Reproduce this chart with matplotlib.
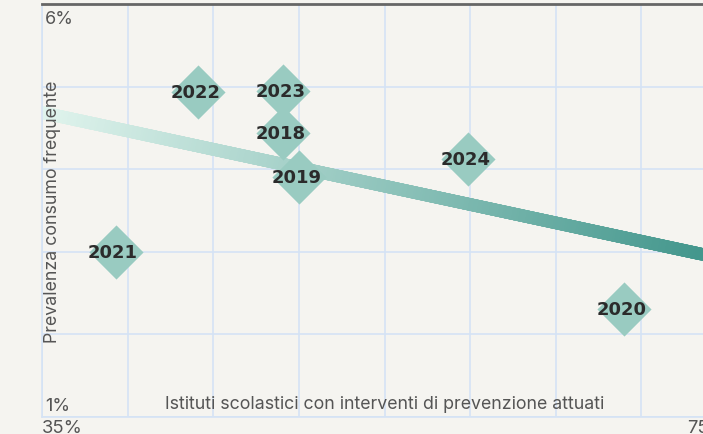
import numpy as np
import matplotlib.pyplot as plt
from matplotlib.collections import LineCollection
from matplotlib.colors import LinearSegmentedColormap

plt.rcParams['font.family'] = ['Inter', 'DejaVu Sans']

# dati: istituti con interventi (%) vs prevalenza consumo frequente (%)
anni = ['2018', '2019', '2020', '2021', '2022', '2023', '2024']
istituti = [49.1, 50.0, 69.0, 39.3, 44.1, 49.1, 59.9]
prevalenza = [4.44, 3.91, 2.31, 3.00, 4.93, 4.95, 4.12]

x_ticks = [35, 40, 45, 50, 55, 60, 65, 70, 75]
y_ticks = [1, 2, 3, 4, 5, 6]

bg = '#f5f4f0'
grid_col = '#d5e3f5'
text_col = '#555555'

fig = plt.figure(figsize=(7.03, 4.35), dpi=100, facecolor=bg)
ax = fig.add_axes([42 / 703, 17 / 435, 685 / 703, 413 / 435])
ax.set_facecolor(bg)
ax.set_xlim(35, 75)
ax.set_ylim(1, 6)

ax.set_xticks(x_ticks)
ax.set_yticks(y_ticks)
ax.tick_params(length=0, labelbottom=False, labelleft=False)
ax.grid(True, color=grid_col, linewidth=1.2)
ax.set_axisbelow(True)
for s in ['left', 'bottom', 'right']:
    ax.spines[s].set_color(grid_col)
    ax.spines[s].set_linewidth(1.2)
ax.spines['top'].set_color('#666666')
ax.spines['top'].set_linewidth(2)

# retta di regressione con sfumatura
m, q = np.polyfit(istituti, prevalenza, 1)
xs = np.linspace(35, 75, 300)
ys = m * xs + q
pts = np.column_stack([xs, ys]).reshape(-1, 1, 2)
segs = np.concatenate([pts[:-1], pts[1:]], axis=1)
cmap = LinearSegmentedColormap.from_list('verde', ['#e2f5ee', '#3f948a'])
lc = LineCollection(segs, cmap=cmap, linewidths=9, capstyle='projecting', zorder=2)
lc.set_array(np.linspace(0, 1, len(segs)))
ax.add_collection(lc)

# rombi con etichette
ax.scatter(istituti, prevalenza, marker='D', s=760, color='#99cbc1',
           linewidths=0, zorder=3, clip_on=False)
for a, xv, yv in zip(anni, istituti, prevalenza):
    ax.text(xv - 0.15, yv, a, ha='center', va='center', fontsize=13,
            fontweight='heavy', color='#2b2b2b', zorder=4,
            family=['DejaVu Sans'])

# etichette assi
ax.text(0.5, 0.032, 'Istituti scolastici con interventi di prevenzione attuati',
        transform=ax.transAxes, ha='center', va='center', fontsize=12.8, color=text_col)
ax.text(0.015, 0.5, 'Prevalenza consumo frequente', transform=ax.transAxes,
        rotation=90, ha='center', va='center', fontsize=12.8, color=text_col)

ax.text(0.004, 0.985, '6%', transform=ax.transAxes, ha='left', va='top',
        fontsize=13, color=text_col)
ax.text(0.004, 0.008, '1%', transform=ax.transAxes, ha='left', va='bottom',
        fontsize=13, color=text_col)
ax.text(0, -0.005, '35%', transform=ax.transAxes, ha='left', va='top',
        fontsize=13.3, color=text_col)
ax.text(1, -0.005, '75%', transform=ax.transAxes, ha='right', va='top',
        fontsize=13.3, color=text_col)

fig.savefig('out.png', dpi=100, facecolor=bg)
